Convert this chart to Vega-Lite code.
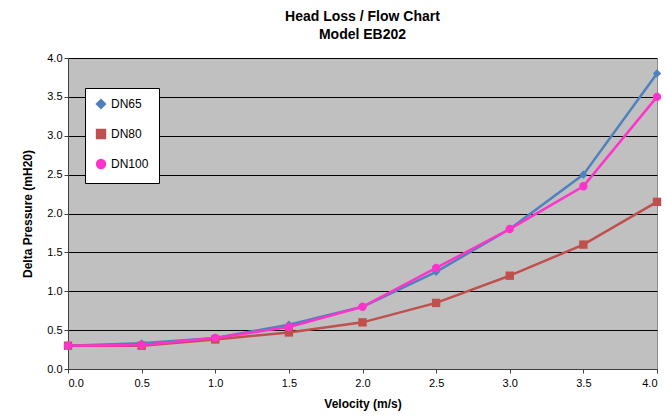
{
  "$schema": "https://vega.github.io/schema/vega-lite/v6.json",
  "autosize": "none",
  "width": 589,
  "height": 311,
  "padding": {"left": 68, "top": 58, "right": 10, "bottom": 50},
  "background": "white",
  "title": {
    "text": ["Head Loss  / Flow Chart", "Model EB202"],
    "font": "Liberation Sans",
    "fontSize": 14,
    "fontWeight": "bold",
    "color": "#000000",
    "anchor": "middle",
    "lineHeight": 18,
    "offset": 10
  },
  "config": {
    "view": {"fill": "#C0C0C0", "stroke": "#8C8C8C", "strokeWidth": 1},
    "font": "Liberation Sans",
    "axis": {
      "labelFont": "Liberation Sans",
      "labelFontSize": 11,
      "labelColor": "#000000",
      "titleFont": "Liberation Sans",
      "titleFontSize": 12,
      "titleFontWeight": "bold",
      "titleColor": "#000000",
      "domainColor": "#404040",
      "tickColor": "#404040",
      "tickSize": 4
    }
  },
  "data": {
    "values": [
      {"v": 0.0, "p": 0.30, "s": "DN65"},
      {"v": 0.5, "p": 0.33, "s": "DN65"},
      {"v": 1.0, "p": 0.40, "s": "DN65"},
      {"v": 1.5, "p": 0.57, "s": "DN65"},
      {"v": 2.0, "p": 0.80, "s": "DN65"},
      {"v": 2.5, "p": 1.25, "s": "DN65"},
      {"v": 3.0, "p": 1.80, "s": "DN65"},
      {"v": 3.5, "p": 2.50, "s": "DN65"},
      {"v": 4.0, "p": 3.80, "s": "DN65"},
      {"v": 0.0, "p": 0.30, "s": "DN80"},
      {"v": 0.5, "p": 0.30, "s": "DN80"},
      {"v": 1.0, "p": 0.38, "s": "DN80"},
      {"v": 1.5, "p": 0.47, "s": "DN80"},
      {"v": 2.0, "p": 0.60, "s": "DN80"},
      {"v": 2.5, "p": 0.85, "s": "DN80"},
      {"v": 3.0, "p": 1.20, "s": "DN80"},
      {"v": 3.5, "p": 1.60, "s": "DN80"},
      {"v": 4.0, "p": 2.15, "s": "DN80"},
      {"v": 0.0, "p": 0.30, "s": "DN100"},
      {"v": 0.5, "p": 0.31, "s": "DN100"},
      {"v": 1.0, "p": 0.40, "s": "DN100"},
      {"v": 1.5, "p": 0.54, "s": "DN100"},
      {"v": 2.0, "p": 0.80, "s": "DN100"},
      {"v": 2.5, "p": 1.30, "s": "DN100"},
      {"v": 3.0, "p": 1.80, "s": "DN100"},
      {"v": 3.5, "p": 2.35, "s": "DN100"},
      {"v": 4.0, "p": 3.50, "s": "DN100"}
    ]
  },
  "encoding": {
    "x": {
      "field": "v", "type": "quantitative",
      "title": "Velocity  (m/s)",
      "scale": {"domain": [0, 4], "nice": false},
      "axis": {"values": [0, 0.5, 1, 1.5, 2, 2.5, 3, 3.5, 4], "format": ".1f", "grid": false, "titlePadding": 10, "labelPadding": 4}
    },
    "y": {
      "field": "p", "type": "quantitative",
      "title": "Delta Pressure (mH20)",
      "scale": {"domain": [0, 4], "nice": false},
      "axis": {"values": [0, 0.5, 1, 1.5, 2, 2.5, 3, 3.5, 4], "format": ".1f", "grid": true, "gridColor": "#000000", "gridWidth": 1, "gridOpacity": 1, "titlePadding": 12}
    },
    "color": {
      "field": "s", "type": "nominal",
      "scale": {"domain": ["DN65", "DN80", "DN100"], "range": ["#4F81BD", "#C0504D", "#FF33CC"]},
      "legend": {
        "title": null,
        "orient": "none",
        "legendX": 17,
        "legendY": 30,
        "fillColor": "white",
        "strokeColor": "#000000",
        "padding": 10,
        "rowPadding": 12,
        "labelFontSize": 12,
        "labelColor": "#000000",
        "symbolSize": 70,
        "symbolStrokeWidth": 2
      }
    },
    "shape": {
      "field": "s", "type": "nominal",
      "scale": {"domain": ["DN65", "DN80", "DN100"], "range": ["diamond", "square", "circle"]},
      "legend": null
    },
    "order": {"field": "v"}
  },
  "layer": [
    {"mark": {"type": "line", "strokeWidth": 2.5}},
    {"mark": {"type": "point", "filled": true, "size": 70, "opacity": 1}}
  ]
}
